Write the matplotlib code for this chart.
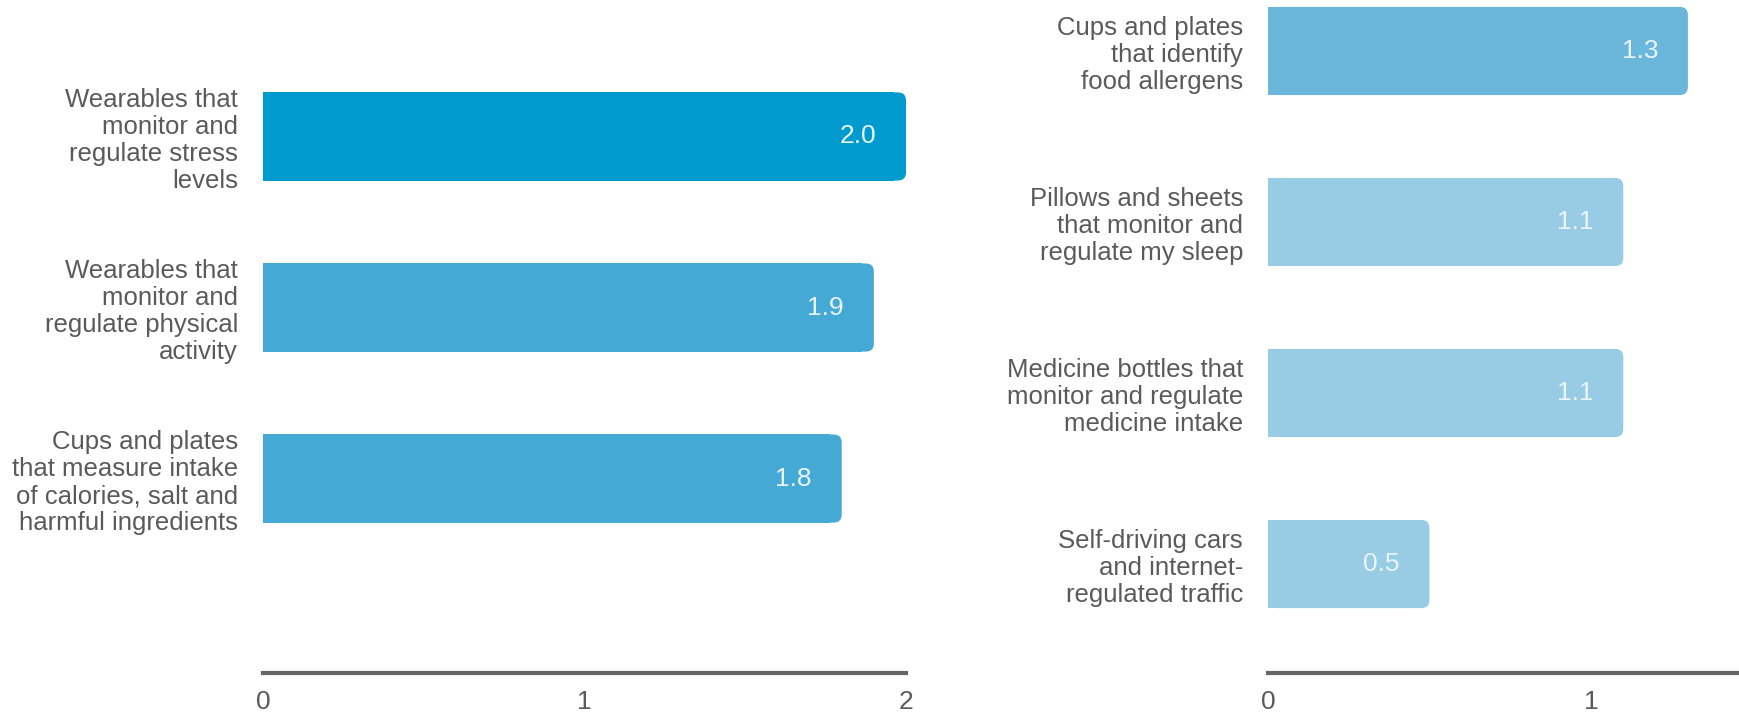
import matplotlib
matplotlib.use("Agg")
import matplotlib.pyplot as plt
from matplotlib.patches import FancyBboxPatch

plt.rcParams['font.family'] = ['Liberation Sans', 'DejaVu Sans']

# left panel
left_labels = [
    "Wearables that\nmonitor and\nregulate stress\nlevels",
    "Wearables that\nmonitor and\nregulate physical\nactivity",
    "Cups and plates\nthat measure intake\nof calories, salt and\nharmful ingredients",
]
left_values = [2.0, 1.9, 1.8]
left_colors = ["#009bce", "#45a9d5", "#45a9d5"]
left_ticks = [0, 1, 2]

# right panel
right_labels = [
    "Cups and plates\nthat identify\nfood allergens",
    "Pillows and sheets\nthat monitor and\nregulate my sleep",
    "Medicine bottles that\nmonitor and regulate\nmedicine intake",
    "Self-driving cars\nand internet-\nregulated traffic",
]
right_values = [1.3, 1.1, 1.1, 0.5]
right_colors = ["#6bb7dc", "#98cce5", "#98cce5", "#98cce5"]
right_ticks = [0, 1]

W, H = 1739, 714
fig = plt.figure(figsize=(W / 100, H / 100), dpi=100)

TEXT = "#5a5a5a"
BAR_H = 0.515
YLIM = (3.637, -0.298)
PX_X = 321.5   # pixels per x unit
PX_Y = 171.0   # pixels per y unit
RAD = 8 / PX_X


def panel(rect, labels, values, colors, pos, ticks):
    ax = fig.add_axes(rect)
    for y, v, c in zip(pos, values, colors):
        ax.barh(y, v - RAD * 1.5, height=BAR_H, color=c, linewidth=0)
        cap = FancyBboxPatch((0, y - BAR_H / 2), v, BAR_H,
                             boxstyle="round,pad=0,rounding_size=%f" % RAD,
                             mutation_aspect=PX_X / PX_Y,
                             facecolor=c, edgecolor="none")
        ax.add_patch(cap)
        ax.annotate("%.1f" % v, xy=(v, y), xytext=(-21.5, 0),
                    textcoords="offset points", ha="right", va="center",
                    color="#e9f5fb", fontsize=19)
    ax.set_xlim(0, 2)
    ax.set_ylim(*YLIM)
    ax.set_yticks(pos)
    ax.set_yticklabels(labels, fontsize=18.5, color=TEXT, linespacing=1.17)
    ax.set_xticks(ticks)
    ax.set_xticklabels([str(t) for t in ticks], fontsize=19, color=TEXT)
    ax.tick_params(axis="y", length=0, pad=18)
    ax.tick_params(axis="x", length=0, pad=12)
    for s in ["top", "right", "left"]:
        ax.spines[s].set_visible(False)
    ax.spines["bottom"].set_color("#666666")
    ax.spines["bottom"].set_linewidth(3)
    ax.patch.set_alpha(0)
    return ax


bottom = (H - 673) / H
height = 673 / H
panel([263 / W, bottom, (906 - 263) / W, height],
      left_labels, left_values, left_colors, [0.5, 1.5, 2.5], left_ticks)
panel([1268 / W, bottom, 646 / W, height],
      right_labels, right_values, right_colors, [0, 1, 2, 3], right_ticks)

fig.savefig("out.png", dpi=100)
